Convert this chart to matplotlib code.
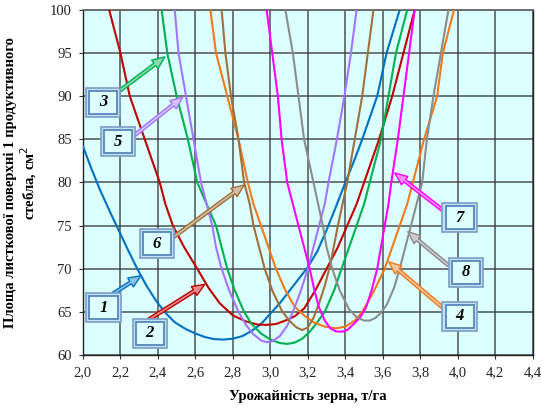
import matplotlib
matplotlib.use("Agg")
import matplotlib.pyplot as plt
from matplotlib.patches import Rectangle
from matplotlib.colors import to_rgb
from matplotlib.ticker import FuncFormatter

# ---- data ----
x1 = [2.00, 2.04, 2.09, 2.14, 2.19, 2.24, 2.29, 2.34, 2.39, 2.44, 2.49, 2.55, 2.60, 2.65, 2.70, 2.75,
      2.80, 2.85, 2.90, 2.95, 3.00, 3.05, 3.10, 3.15, 3.20, 3.25, 3.30, 3.35, 3.40, 3.45, 3.49, 3.53, 3.57, 3.62, 3.69]
y1 = [84.2, 81.9, 79.2, 76.8, 74.5, 72.2, 70.0, 68.0, 66.3, 64.9, 63.8, 63.0, 62.5, 62.1, 61.85, 61.8,
      61.9, 62.2, 62.8, 63.6, 64.8, 66.0, 67.4, 68.8, 70.2, 72.0, 74.5, 77.2, 80.0, 82.7, 85.0, 87.5, 90.0, 95.0, 100.0]

x2 = [2.14, 2.20, 2.25, 2.33, 2.41, 2.44, 2.48, 2.54, 2.61, 2.67, 2.73, 2.80, 2.87, 2.93, 2.98, 3.03,
      3.08, 3.13, 3.18, 3.24, 3.30, 3.36, 3.41, 3.46, 3.50, 3.54, 3.58, 3.65, 3.71, 3.77]
y2 = [100.0, 95.0, 90.0, 85.0, 80.0, 77.5, 75.0, 72.5, 70.0, 67.8, 66.0, 64.6, 63.9, 63.55, 63.5, 63.6,
      64.0, 64.5, 65.4, 67.5, 70.0, 72.5, 75.0, 77.5, 80.0, 82.5, 85.0, 90.0, 95.0, 100.0]

x3 = [2.42, 2.45, 2.50, 2.56, 2.61, 2.66, 2.71, 2.74, 2.77, 2.81, 2.86, 2.90, 2.95, 3.00, 3.05, 3.09,
      3.13, 3.17, 3.21, 3.25, 3.29, 3.34, 3.38, 3.42, 3.46, 3.50, 3.53, 3.56, 3.59, 3.63, 3.67, 3.73]
y3 = [100.0, 95.0, 90.0, 85.0, 80.0, 77.5, 75.0, 72.5, 70.0, 67.5, 65.0, 63.6, 62.5, 61.8, 61.4, 61.3,
      61.45, 61.9, 62.7, 63.8, 65.0, 67.5, 70.0, 72.5, 75.0, 77.5, 80.0, 82.5, 85.0, 90.0, 95.0, 100.0]

x4 = [2.68, 2.71, 2.77, 2.83, 2.88, 2.91, 2.95, 2.99, 3.03, 3.08, 3.13, 3.18, 3.23, 3.29, 3.35, 3.40,
      3.45, 3.49, 3.55, 3.61, 3.65, 3.69, 3.73, 3.76, 3.79, 3.82, 3.89, 3.92, 3.98]
y4 = [100.0, 95.0, 90.0, 85.0, 80.0, 77.5, 75.0, 72.5, 70.0, 67.5, 65.6, 64.6, 63.8, 63.3, 63.1, 63.3,
      64.0, 65.0, 67.3, 70.0, 72.5, 75.0, 77.5, 80.0, 82.5, 85.0, 90.0, 95.0, 100.0]

x5 = [2.49, 2.51, 2.55, 2.59, 2.63, 2.66, 2.69, 2.71, 2.74, 2.78, 2.83, 2.87, 2.91, 2.95, 2.98, 3.01,
      3.05, 3.09, 3.12, 3.16, 3.20, 3.23, 3.26, 3.29, 3.31, 3.355, 3.395, 3.43, 3.46]
y5 = [100.0, 95.0, 90.0, 85.0, 80.0, 77.5, 75.0, 72.5, 70.0, 67.5, 65.0, 63.5, 62.4, 61.7, 61.5, 61.6,
      62.2, 63.4, 65.0, 67.3, 70.0, 72.5, 75.0, 77.5, 80.0, 85.0, 90.0, 95.0, 100.0]

x6 = [2.74, 2.76, 2.79, 2.83, 2.86, 2.89, 2.91, 2.94, 2.97, 3.01, 3.06, 3.10, 3.14, 3.17, 3.20, 3.23,
      3.26, 3.29, 3.32, 3.36, 3.41, 3.45, 3.49, 3.52, 3.55]
y6 = [100.0, 95.0, 90.0, 85.0, 80.0, 77.5, 75.0, 72.5, 70.0, 67.5, 65.2, 64.0, 63.2, 62.9, 63.2, 64.3,
      66.0, 68.0, 70.5, 75.0, 80.0, 85.0, 90.0, 95.0, 100.0]

x7 = [2.98, 3.01, 3.04, 3.06, 3.09, 3.12, 3.15, 3.18, 3.21, 3.235, 3.26, 3.29, 3.32, 3.35, 3.38, 3.41,
      3.44, 3.48, 3.51, 3.54, 3.57, 3.59, 3.61, 3.63, 3.645, 3.68, 3.71, 3.74, 3.77]
y7 = [100.0, 95.0, 90.0, 85.0, 80.0, 77.5, 75.0, 72.5, 70.0, 67.5, 65.5, 64.0, 63.1, 62.75, 62.7, 62.9,
      63.5, 64.4, 65.5, 67.5, 70.0, 72.5, 75.0, 77.5, 80.0, 85.0, 90.0, 95.0, 100.0]

x8 = [3.08, 3.12, 3.15, 3.18, 3.23, 3.255, 3.28, 3.30, 3.33, 3.37, 3.42, 3.46, 3.50, 3.53, 3.56, 3.59,
      3.62, 3.66, 3.69, 3.72, 3.75, 3.78, 3.81, 3.835, 3.87, 3.91, 3.95]
y8 = [100.0, 95.0, 90.0, 85.0, 80.0, 77.5, 75.0, 72.5, 70.0, 67.5, 65.3, 64.4, 64.0, 64.0, 64.3, 64.9,
      65.8, 67.8, 70.0, 72.5, 75.0, 77.5, 80.0, 85.0, 90.0, 95.0, 100.0]

series_x = [x1, x2, x3, x4, x5, x6, x7, x8]
series_y = [y1, y2, y3, y4, y5, y6, y7, y8]
series_names = ["1", "2", "3", "4", "5", "6", "7", "8"]
colors = ["#0070C0", "#C00000", "#00B050", "#EE7A1C", "#A375FF", "#A0703A", "#FF00FF", "#8C8C8C"]

# label box centres and arrow tail/head points (data coords)
label_pos = {"1": (2.11, 65.5), "2": (2.357, 62.55), "3": (2.107, 89.3), "4": (4.01, 64.5),
             "5": (2.187, 84.7), "6": (2.395, 72.9), "7": (4.01, 75.9), "8": (4.043, 69.6)}
arrow_tail = {"1": (2.16, 67.1), "2": (2.35, 64.1), "3": (2.20, 90.7), "4": (3.925, 65.4),
              "5": (2.277, 85.5), "6": (2.485, 73.7), "7": (3.925, 76.7), "8": (3.95, 70.4)}
arrow_head = {"1": (2.31, 69.2), "2": (2.65, 68.2), "3": (2.437, 94.55), "4": (3.632, 70.8),
              "5": (2.533, 89.9), "6": (2.86, 79.7), "7": (3.664, 81.1), "8": (3.733, 74.3)}

x_ticks = [2.0, 2.2, 2.4, 2.6, 2.8, 3.0, 3.2, 3.4, 3.6, 3.8, 4.0, 4.2, 4.4]
y_ticks = [60, 65, 70, 75, 80, 85, 90, 95, 100]

# label box sizes (in data units)
OUT_W, OUT_H = 0.185, 3.35
IN_W, IN_H = 0.150, 2.65

fig = plt.figure(figsize=(5.42, 4.11), dpi=100)
ax = fig.add_axes([0.153, 0.136, 0.830, 0.840])
ax.set_facecolor("#DCFFFF")

for xs, ys, c in zip(series_x, series_y, colors):
    ax.plot(xs, ys, color=c, lw=1.5, zorder=3, solid_capstyle="round", solid_joinstyle="round")

ax.set_xlim(2.0, 4.4)
ax.set_ylim(60, 100)
ax.set_xticks(x_ticks)
ax.set_yticks(y_ticks)
ax.xaxis.set_major_formatter(FuncFormatter(lambda v, p: f"{v:.1f}".replace(".", ",")))
ax.grid(True, color="#3A3A3A", lw=1.3, alpha=0.75, zorder=1)
ax.set_axisbelow(True)
for s in ["left", "bottom", "right"]:
    ax.spines[s].set_color("#222222")
    ax.spines[s].set_linewidth(1.0)
ax.spines["top"].set_color("#666666")
ax.spines["top"].set_linewidth(1.3)
ax.tick_params(axis="both", direction="out", length=3, width=0.8, colors="#333333",
               labelsize=10.5, pad=5, labelcolor="#222222")
for lbl in ax.get_xticklabels() + ax.get_yticklabels():
    lbl.set_family("Liberation Serif")

ax.set_xlabel("Урожайність зерна, т/га", family="Liberation Serif", fontweight="bold",
              fontsize=10.5, labelpad=8)
ax.set_ylabel("Площа листкової поверхні 1 продуктивного\nстебла, см$^2$", family="Liberation Serif",
              fontweight="bold", fontsize=10.5, labelpad=8, linespacing=1.05)

for name, c in zip(series_names, colors):
    tx, ty = arrow_tail[name]
    hx, hy = arrow_head[name]
    r, g, b = to_rgb(c)
    tint = (0.55 + 0.45 * r, 0.55 + 0.45 * g, 0.55 + 0.45 * b)
    ax.annotate("", xy=(hx, hy), xytext=(tx, ty),
                arrowprops=dict(arrowstyle="simple,head_length=0.9,head_width=0.75,tail_width=0.22",
                                fc=tint, ec=c, lw=1.0, shrinkA=0, shrinkB=0),
                zorder=5)
    lx, ly = label_pos[name]
    ax.add_patch(Rectangle((lx - OUT_W / 2, ly - OUT_H / 2), OUT_W, OUT_H,
                           fc="#BFE3F2", ec="#7C9CC8", lw=1.2, zorder=6))
    ax.add_patch(Rectangle((lx - IN_W / 2, ly - IN_H / 2), IN_W, IN_H,
                           fc="#DDFFFF", ec="#4F7DB3", lw=1.2, zorder=7))
    ax.text(lx, ly, name, ha="center", va="center", family="Liberation Serif", fontsize=12,
            fontweight="bold", style="italic", color="black", zorder=8)

fig.savefig("out.png", dpi=100)
